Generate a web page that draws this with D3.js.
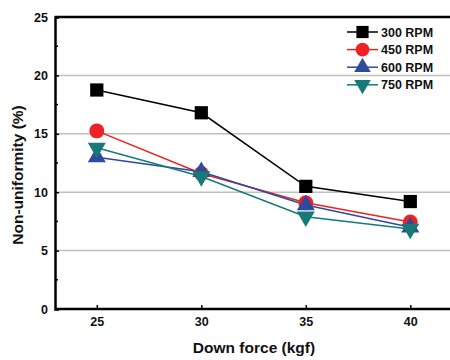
<!DOCTYPE html>
<html>
<head>
<meta charset="utf-8">
<script src="https://cdn.jsdelivr.net/npm/d3@7"></script>
<style>
  body { margin: 0; background: #fff; }
  text { font-family: Arial, "Liberation Sans", sans-serif; font-weight: bold; }
</style>
</head>
<body>
<div id="chart"></div>
<script>
const forces = [25, 30, 35, 40];
const rpm300 = [18.75, 16.8, 10.5, 9.2];
const rpm450 = [15.25, 11.6, 9.1, 7.45];
const rpm600 = [13.0, 11.75, 8.9, 7.0];
const rpm750 = [13.8, 11.35, 7.9, 6.85];
const seriesNames = ["300 RPM", "450 RPM", "600 RPM", "750 RPM"];
const yTicks = [0, 5, 10, 15, 20, 25];

const W = 450, H = 360;
const margin = { left: 55, top: 17, right: 0, bottom: 51 };

const series = [
    { name: seriesNames[0], values: rpm300, color: "#000000", symbol: d3.symbolSquare, size: 175, rot: 0 },
    { name: seriesNames[1], values: rpm450, color: "#ee2222", symbol: d3.symbolCircle, size: 175, rot: 0 },
    { name: seriesNames[2], values: rpm600, color: "#2e4a9e", symbol: d3.symbolTriangle, size: 140, rot: 0 },
    { name: seriesNames[3], values: rpm750, color: "#157a78", symbol: d3.symbolTriangle, size: 140, rot: 180 }
];

const svg = d3.select("#chart").append("svg")
    .attr("width", W)
    .attr("height", H);

const x = d3.scaleLinear()
    .domain([23, 41.9])
    .range([margin.left, W - margin.right]);

const y = d3.scaleLinear()
    .domain([0, 25])
    .range([H - margin.bottom, margin.top]);

// grid lines
svg.append("g")
    .selectAll("line")
    .data(yTicks.filter(t => t > 0 && t < 25))
    .enter()
    .append("line")
    .attr("x1", x.range()[0])
    .attr("x2", x.range()[1])
    .attr("y1", d => y(d))
    .attr("y2", d => y(d))
    .attr("stroke", "#c0c0c0")
    .attr("stroke-width", 1.5);

// top border
svg.append("line")
    .attr("x1", x.range()[0]).attr("x2", W)
    .attr("y1", y(25)).attr("y2", y(25))
    .attr("stroke", "#000").attr("stroke-width", 2.5);

// Y axis
const yAxis = svg.append("g")
    .attr("transform", `translate(${margin.left},0)`)
    .call(d3.axisLeft(y).tickValues(yTicks).tickSize(-4).tickPadding(7));
yAxis.select(".domain").attr("stroke-width", 2.5);
yAxis.selectAll(".tick line").attr("stroke-width", 1.5);
yAxis.selectAll("text").style("font-size", "12.5px").attr("fill", "#111");

// minor y ticks
svg.append("g")
    .selectAll("line")
    .data(d3.range(2.5, 25, 5))
    .enter()
    .append("line")
    .attr("x1", margin.left).attr("x2", margin.left + 3)
    .attr("y1", d => y(d)).attr("y2", d => y(d))
    .attr("stroke", "#000").attr("stroke-width", 1.5);

// X axis
const xAxis = svg.append("g")
    .attr("transform", `translate(0,${H - margin.bottom})`)
    .call(d3.axisBottom(x).tickValues(forces).tickSize(-4).tickPadding(8));
xAxis.select(".domain").attr("stroke-width", 2.5).attr("d", `M${margin.left},0H${W}`);
xAxis.selectAll(".tick line").attr("stroke-width", 1.5);
xAxis.selectAll("text").style("font-size", "12.5px").attr("fill", "#111");

// axis titles
svg.append("text")
    .attr("x", 254)
    .attr("y", 353)
    .attr("text-anchor", "middle")
    .style("font-size", "15.5px")
    .attr("fill", "#111")
    .text("Down force (kgf)");

svg.append("text")
    .attr("transform", `translate(23,${y(12.5) + 12}) rotate(-90)`)
    .attr("text-anchor", "middle")
    .style("font-size", "15.5px")
    .attr("fill", "#111")
    .text("Non-uniformity (%)");

// lines and markers
const line = d3.line()
    .x((d, i) => x(forces[i]))
    .y(d => y(d));

series.forEach(s => {
    svg.append("path")
        .datum(s.values)
        .attr("fill", "none")
        .attr("stroke", s.color)
        .attr("stroke-width", 1.5)
        .attr("d", line);
});

series.forEach(s => {
    svg.append("g")
        .selectAll("path")
        .data(s.values)
        .enter()
        .append("path")
        .attr("d", d3.symbol().type(s.symbol).size(s.size))
        .attr("transform", (d, i) => `translate(${x(forces[i])},${y(d)}) rotate(${s.rot})`)
        .attr("fill", s.color);
});

// legend
const legend = svg.append("g")
    .attr("transform", "translate(347,32)");

series.forEach((s, i) => {
    const row = legend.append("g").attr("transform", `translate(0,${i * 17.6})`);
    row.append("line")
        .attr("x1", 0).attr("x2", 31)
        .attr("stroke", s.color).attr("stroke-width", 1.5);
    row.append("path")
        .attr("d", d3.symbol().type(s.symbol).size(s.size * 0.85))
        .attr("transform", `translate(15.5,0) rotate(${s.rot})`)
        .attr("fill", s.color);
    row.append("text")
        .attr("x", 34)
        .attr("y", 4.5)
        .style("font-size", "12.5px")
        .attr("fill", "#111")
        .text(s.name);
});
</script>
</body>
</html>
